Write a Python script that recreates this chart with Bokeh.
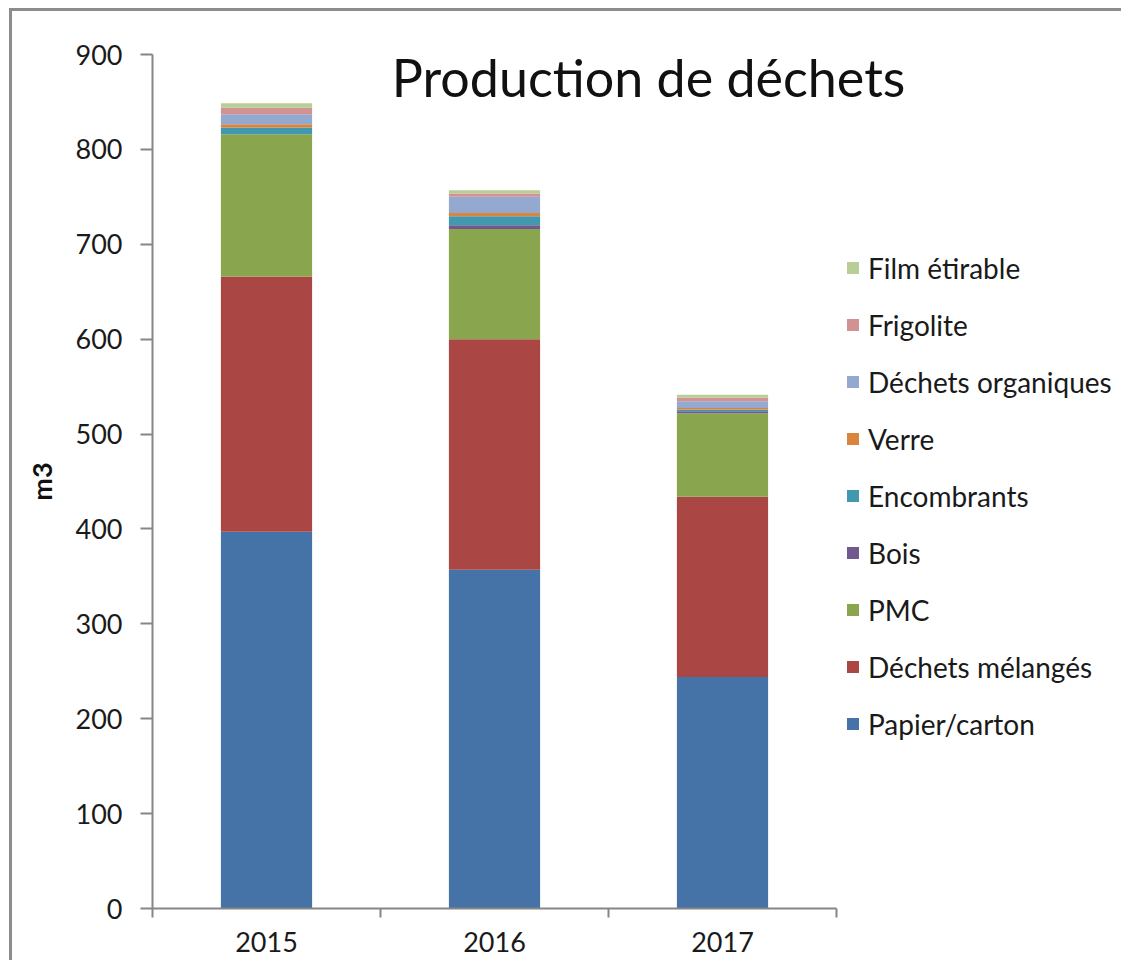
from bokeh.plotting import figure
from bokeh.models import (ColumnDataSource, Range1d, FixedTicker, Legend, LegendItem, Label,
                          InlineStyleSheet)
from bokeh.embed import file_html
from bokeh.resources import INLINE

years = ["2015", "2016", "2017"]
papier_carton = [397, 357, 244]
dechets_melanges = [269, 243, 190]
pmc = [150, 116, 88]
bois = [0, 4, 2]
encombrants = [7, 9.5, 2]
verre = [3.5, 3.5, 1.5]
dechets_organiques = [10.5, 17, 7]
frigolite = [7, 3.5, 4]
film_etirable = [4.5, 3.5, 3]

series_names = ["Papier/carton", "Déchets mélangés", "PMC", "Bois", "Encombrants",
                "Verre", "Déchets organiques", "Frigolite", "Film étirable"]
series_values = [papier_carton, dechets_melanges, pmc, bois, encombrants,
                 verre, dechets_organiques, frigolite, film_etirable]
colors = ["#4572A7", "#AA4643", "#89A54E", "#71588F", "#4198AF",
          "#DB843D", "#93A9CF", "#D19392", "#B9CD96"]

keys = ["s%d" % i for i in range(len(series_names))]
ncat = len(years)
data = {"x": [i + 0.5 for i in range(ncat)]}
for k, v in zip(keys, series_values):
    data[k] = v
src = ColumnDataSource(data)

FONT = "Lato"
AXIS_GRAY = "#868686"

# layout (page pixels)
OFF_X, OFF_Y = 12, 11          # canvas origin, just inside the outer border
FIG_W, FIG_H = 1112, 952
AX_LEFT, AX_TOP, AX_BOTTOM, AX_RIGHT = 152, 54, 908, 836
frame_w = (OFF_X + FIG_W) - AX_LEFT
x_end = ncat * frame_w / (AX_RIGHT - AX_LEFT)

p = figure(width=FIG_W, height=FIG_H, x_range=Range1d(0, x_end), y_range=Range1d(0, 900),
           output_backend="svg", toolbar_location=None,
           min_border_left=AX_LEFT - OFF_X, min_border_right=0,
           min_border_top=AX_TOP - OFF_Y, min_border_bottom=(OFF_Y + FIG_H) - AX_BOTTOM)
p.styles = {"margin-left": "%dpx" % OFF_X, "margin-top": "%dpx" % OFF_Y,
            "box-shadow": "-3px -3px 0px 0px #8c8c8c"}
p.stylesheets = [InlineStyleSheet(css=(
    ":host, div { overflow: hidden !important; scrollbar-width: none !important; }"
    " ::-webkit-scrollbar { display: none !important; width: 0; height: 0; }"))]
p.outline_line_color = None
p.grid.grid_line_color = None
p.background_fill_color = "white"
p.border_fill_color = "white"

renderers = p.vbar_stack(keys, x="x", width=0.4, source=src, color=colors, line_color=None)

# x axis
p.xaxis.bounds = (0, ncat)
p.xaxis.ticker = FixedTicker(ticks=data["x"], minor_ticks=list(range(ncat + 1)))
p.xaxis.major_label_overrides = {x: y for x, y in zip(data["x"], years)}
p.xaxis.major_tick_out = 0
p.xaxis.major_tick_in = 0
p.xaxis.minor_tick_out = 9
p.xaxis.minor_tick_in = 0
p.xaxis.minor_tick_line_color = AXIS_GRAY
p.xaxis.minor_tick_line_width = 2
p.xaxis.axis_line_color = AXIS_GRAY
p.xaxis.axis_line_width = 2
p.xaxis.major_label_standoff = 14
p.xaxis.major_label_text_font = FONT
p.xaxis.major_label_text_font_size = "27px"
p.xaxis.major_label_text_color = "#1a1a1a"

# y axis
p.yaxis.ticker = FixedTicker(ticks=list(range(0, 901, 100)), minor_ticks=[])
p.yaxis.major_tick_out = 12
p.yaxis.major_tick_in = 0
p.yaxis.major_tick_line_color = AXIS_GRAY
p.yaxis.major_tick_line_width = 2
p.yaxis.axis_line_color = AXIS_GRAY
p.yaxis.axis_line_width = 2
p.yaxis.major_label_standoff = 18
p.yaxis.major_label_text_font = FONT
p.yaxis.major_label_text_font_size = "27px"
p.yaxis.major_label_text_color = "#1a1a1a"
p.yaxis.axis_label = "m3"
p.yaxis.axis_label_text_font = FONT
p.yaxis.axis_label_text_font_style = "bold"
p.yaxis.axis_label_text_font_size = "27px"
p.yaxis.axis_label_text_color = "#111111"
p.yaxis.axis_label_standoff = 15

# title
p.add_layout(Label(x=(648 - AX_LEFT) / 228, y=876, text="Production de déchets",
                   text_align="center", text_baseline="middle", text_font=FONT,
                   text_font_size="52px", text_color="#111111"))

# legend (reverse order, top = last series)
items = [LegendItem(label=n, renderers=[r]) for n, r in zip(series_names, renderers)][::-1]
legend = Legend(items=items, location=(845 - AX_LEFT, 167), orientation="vertical",
                glyph_width=15, glyph_height=15, label_height=35, spacing=22,
                label_standoff=8, padding=0, margin=0,
                label_text_font=FONT, label_text_font_size="28px", label_text_color="#1a1a1a",
                border_line_color=None, background_fill_alpha=0)
p.add_layout(legend)

open("out.html", "w").write(file_html(p, INLINE))
